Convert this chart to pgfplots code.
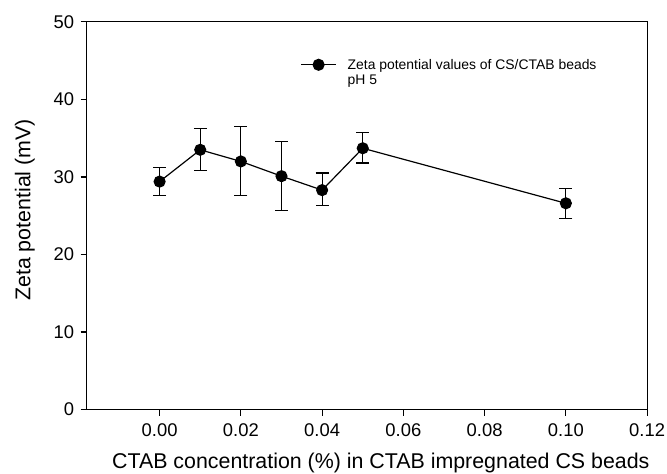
\documentclass[border=0pt]{standalone}
\usepackage{fontspec}
\setmainfont{Liberation Sans}
\usepackage{pgfplots}
\pgfplotsset{compat=1.18}

\begin{document}
\begin{tikzpicture}
\begin{axis}[
    scale only axis,
    width=564pt, height=390pt,
    xmin=-0.018, xmax=0.12,
    ymin=0, ymax=50,
    xtick={0,0.02,0.04,0.06,0.08,0.10,0.12},
    ytick={0,10,20,30,40,50},
    scaled x ticks=false,
    xticklabel style={yshift=-5pt, /pgf/number format/.cd, fixed, fixed zerofill, precision=2},
    /pgf/number format/assume math mode=true,
    tick align=outside, xtick pos=bottom, ytick pos=left,
    major tick length=6pt,
    tick style={line width=1.2pt, black},
    axis line style={line width=1.2pt},
    ticklabel style={font=\fontsize{18.5}{22}\selectfont},
    yticklabel style={xshift=-3pt},
    label style={font=\fontsize{21.5}{25}\selectfont},
    xlabel={CTAB concentration (\%) in CTAB impregnated CS beads},
    ylabel={Zeta potential (mV)},
    xlabel style={at={(axis description cs:0.525,0)}, anchor=base, yshift=-59pt},
    ylabel style={at={(axis description cs:-0.11,0.515)}, anchor=center},
    legend style={draw=none, fill=none, at={(0.376,0.915)}, anchor=north west,
        font=\fontsize{14}{16}\selectfont, row sep=0pt,
        /tikz/every odd column/.append style={column sep=9pt}},
    legend cell align=left,
    legend image code/.code={\draw[mark repeat=2,mark phase=2,#1]
        plot coordinates {(0cm,0cm) (0.62cm,0cm) (1.24cm,0cm)};},
]
\addplot[black, line width=1.2pt, mark=*, mark size=5.5pt, mark options={fill=black},
    error bars/.cd, y dir=both, y explicit,
    error bar style={line width=1.2pt},
    error mark options={rotate=90, mark size=6.5pt, line width=1.2pt}]
    table[x=x, y=y, y error plus=ep, y error minus=em] {
x    y    ep  em
0.00 29.4 1.8 1.8
0.01 33.5 2.7 2.7
0.02 32.0 4.5 4.4
0.03 30.1 4.5 4.4
0.04 28.3 2.2 2.0
0.05 33.7 2.0 1.9
0.10 26.6 1.9 2.0
};
\addlegendentry{Zeta potential values of CS/CTAB beads}
\addlegendimage{empty legend}
\addlegendentry{pH 5}
\end{axis}
\pgfresetboundingbox
\path (current axis.south west) ++(-87pt,-64pt) rectangle ++(671pt,476pt);
\end{tikzpicture}
\end{document}
